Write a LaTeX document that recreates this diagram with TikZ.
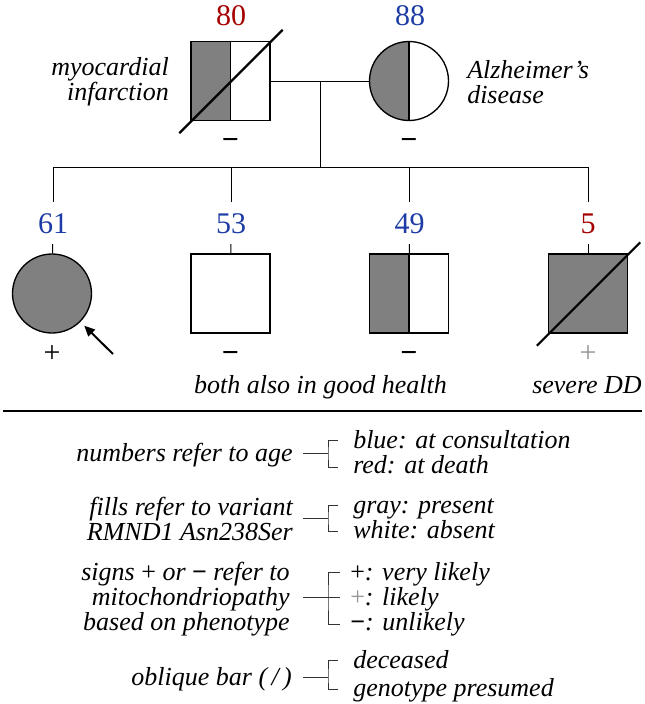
\documentclass[tikz,border=0pt]{standalone}
\usepackage{fontspec}
\setmainfont{Liberation Serif}
\usetikzlibrary{calc,arrows.meta}
\definecolor{pred}{RGB}{165,0,0}
\definecolor{pblue}{RGB}{30,60,165}
\definecolor{pgray}{RGB}{128,128,128}
\definecolor{lgray}{RGB}{150,150,150}
\begin{document}
\begin{tikzpicture}[x=0.75pt,y=-0.75pt,
  lbl/.style={font=\fontsize{19.5}{23}\selectfont\itshape, inner sep=0pt},
  num/.style={font=\fontsize{22.5}{26}\selectfont, inner xsep=0pt, inner ysep=8pt, anchor=base},
  sgn/.style={font=\fontsize{22.5}{26}\selectfont, inner sep=0pt, anchor=base},
  indiv/.style={draw=black, line width=1pt, inner sep=0pt, minimum size=59.25pt},
  male/.style={indiv, rectangle},
  female/.style={indiv, circle},
  halfgray/.style={path picture={
      \fill[pgray] (path picture bounding box.south west) rectangle (path picture bounding box.north);
      \draw[line width=1pt] (path picture bounding box.south) -- (path picture bounding box.north);}},
  conn/.style={line width=0.75pt},
  dec/.style={line width=1.6pt},
  brk/.style={line width=0.7pt, black!80}
]
\useasboundingbox (0,0) rectangle (645,704);

% parents
\node[male, halfgray] (father) at (230.5,81) {};
\node[female, halfgray] (mother) at (409,81) {};
\draw[dec] ($(father.south west)+(-11,12)$) -- ($(father.north east)+(12,-11)$);
\node[num, text=pred] (n80) at (231,25) {80};
\node[num, text=pblue] (n88) at (410,25) {88};
\node[sgn] (s80) at (230.5,149) {\textbf{−}};
\node[sgn] (s88) at (409,149) {\textbf{−}};
\node[lbl, anchor=base east] (mi1) at (169,75) {myocardial};
\node[lbl, anchor=base east] (mi2) at (169,100) {infarction};
\node[lbl, anchor=base west] (ad1) at (467,78) {Alzheimer’s};
\node[lbl, anchor=base west] (ad2) at (467,103) {disease};

% marriage and sibship
\draw[conn] (father.east) -- (mother.west);
\coordinate (mc) at (320,81);
\coordinate (sib) at (320,167);
\draw[conn] (mc) -- (sib);

% children
\node[female, fill=pgray] (c61) at (52,293.5) {};
\node[male] (c53) at (230.5,293.5) {};
\node[male, halfgray] (c49) at (409,293.5) {};
\node[male, fill=pgray] (c5) at (588,293.5) {};
\draw[dec] ($(c5.south west)+(-11,12)$) -- ($(c5.north east)+(12,-11)$);

\node[num, text=pblue] (n61) at (53,233) {61};
\node[num, text=pblue] (n53) at (231,233) {53};
\node[num, text=pblue] (n49) at (409.5,233) {49};
\node[num, text=pred] (n5) at (588,233) {5};

\draw[conn] (n61 |- sib) -- (n5 |- sib);
\foreach \n/\c in {n61/c61, n53/c53, n49/c49, n5/c5}{
  \draw[conn] (\n |- sib) -- (\n);
  \draw[conn] (\n) -- (\c);
}

\node[sgn] (s61) at (52,362) {+};
\node[sgn] (s53) at (230.5,362) {\textbf{−}};
\node[sgn] (s49) at (409,362) {\textbf{−}};
\node[sgn, text=lgray] (s5) at (588,362) {+};

\coordinate (arrtail) at (113,354);
\draw[line width=1.5pt, -{Triangle[length=8pt,width=7pt]}, shorten >=4pt] (arrtail) -- (c61.-45);

\node[lbl, anchor=base] (both) at (320.5,393) {both also in good health};
\node[lbl, anchor=base] (sdd) at (587,393) {severe DD};

% rule
\coordinate (ruleL) at (3,411);
\coordinate (ruleR) at (642,411);
\draw[line width=1.3pt] (ruleL) -- (ruleR);

% legend
\node[lbl, anchor=base east] (l1) at (293,461) {numbers refer to age};
\node[lbl, anchor=base west] (r1a) at (353,448) {blue: at consultation};
\node[lbl, anchor=base west] (r1b) at (353,473) {red: at death};

\node[lbl, anchor=base east] (l2a) at (293,515) {fills refer to variant};
\node[lbl, anchor=base east] (l2b) at (293,540) {RMND1 Asn238Ser};
\node[lbl, anchor=base west] (r2a) at (353,513) {gray: present};
\node[lbl, anchor=base west] (r2b) at (353,538) {white: absent};

\node[lbl, anchor=base east] (l3a) at (290,580) {signs {\upshape +} or {\upshape\bfseries −} refer to};
\node[lbl, anchor=base east] (l3b) at (290,605) {mitochondriopathy};
\node[lbl, anchor=base east] (l3c) at (290,630) {based on phenotype};
\node[lbl, anchor=base west] (r3a) at (350,580) {{\upshape +}: very likely};
\node[lbl, anchor=base west] (r3b) at (350,605) {{\upshape\color{lgray}+}: likely};
\node[lbl, anchor=base west] (r3c) at (350,630) {{\upshape\bfseries −}: unlikely};

\node[lbl, anchor=base east] (l4) at (292,685) {oblique bar (\,/\,)};
\node[lbl, anchor=base west] (r4a) at (353,668) {deceased};
\node[lbl, anchor=base west] (r4b) at (353,696) {genotype presumed};

% brackets
\coordinate (b1h) at (303,453); \coordinate (b1m) at (328,453);
\coordinate (b1t) at (338,440); \coordinate (b1b) at (338,467);
\draw[brk] (b1h) -- (b1m);
\draw[brk] (b1t) -| (b1m) |- (b1b);

\coordinate (b2h) at (303,518); \coordinate (b2m) at (328,518);
\coordinate (b2t) at (338,505); \coordinate (b2b) at (338,531);
\draw[brk] (b2h) -- (b2m);
\draw[brk] (b2t) -| (b2m) |- (b2b);

\coordinate (b3h) at (303,597); \coordinate (b3m) at (328,597); \coordinate (b3e) at (340,597);
\coordinate (b3t) at (340,572); \coordinate (b3b) at (340,624);
\draw[brk] (b3h) -- (b3e);
\draw[brk] (b3t) -| (b3m) |- (b3b);

\coordinate (b4h) at (303,677); \coordinate (b4m) at (328,677);
\coordinate (b4t) at (338,660); \coordinate (b4b) at (338,689);
\draw[brk] (b4h) -- (b4m);
\draw[brk] (b4t) -| (b4m) |- (b4b);
\end{tikzpicture}
\end{document}
